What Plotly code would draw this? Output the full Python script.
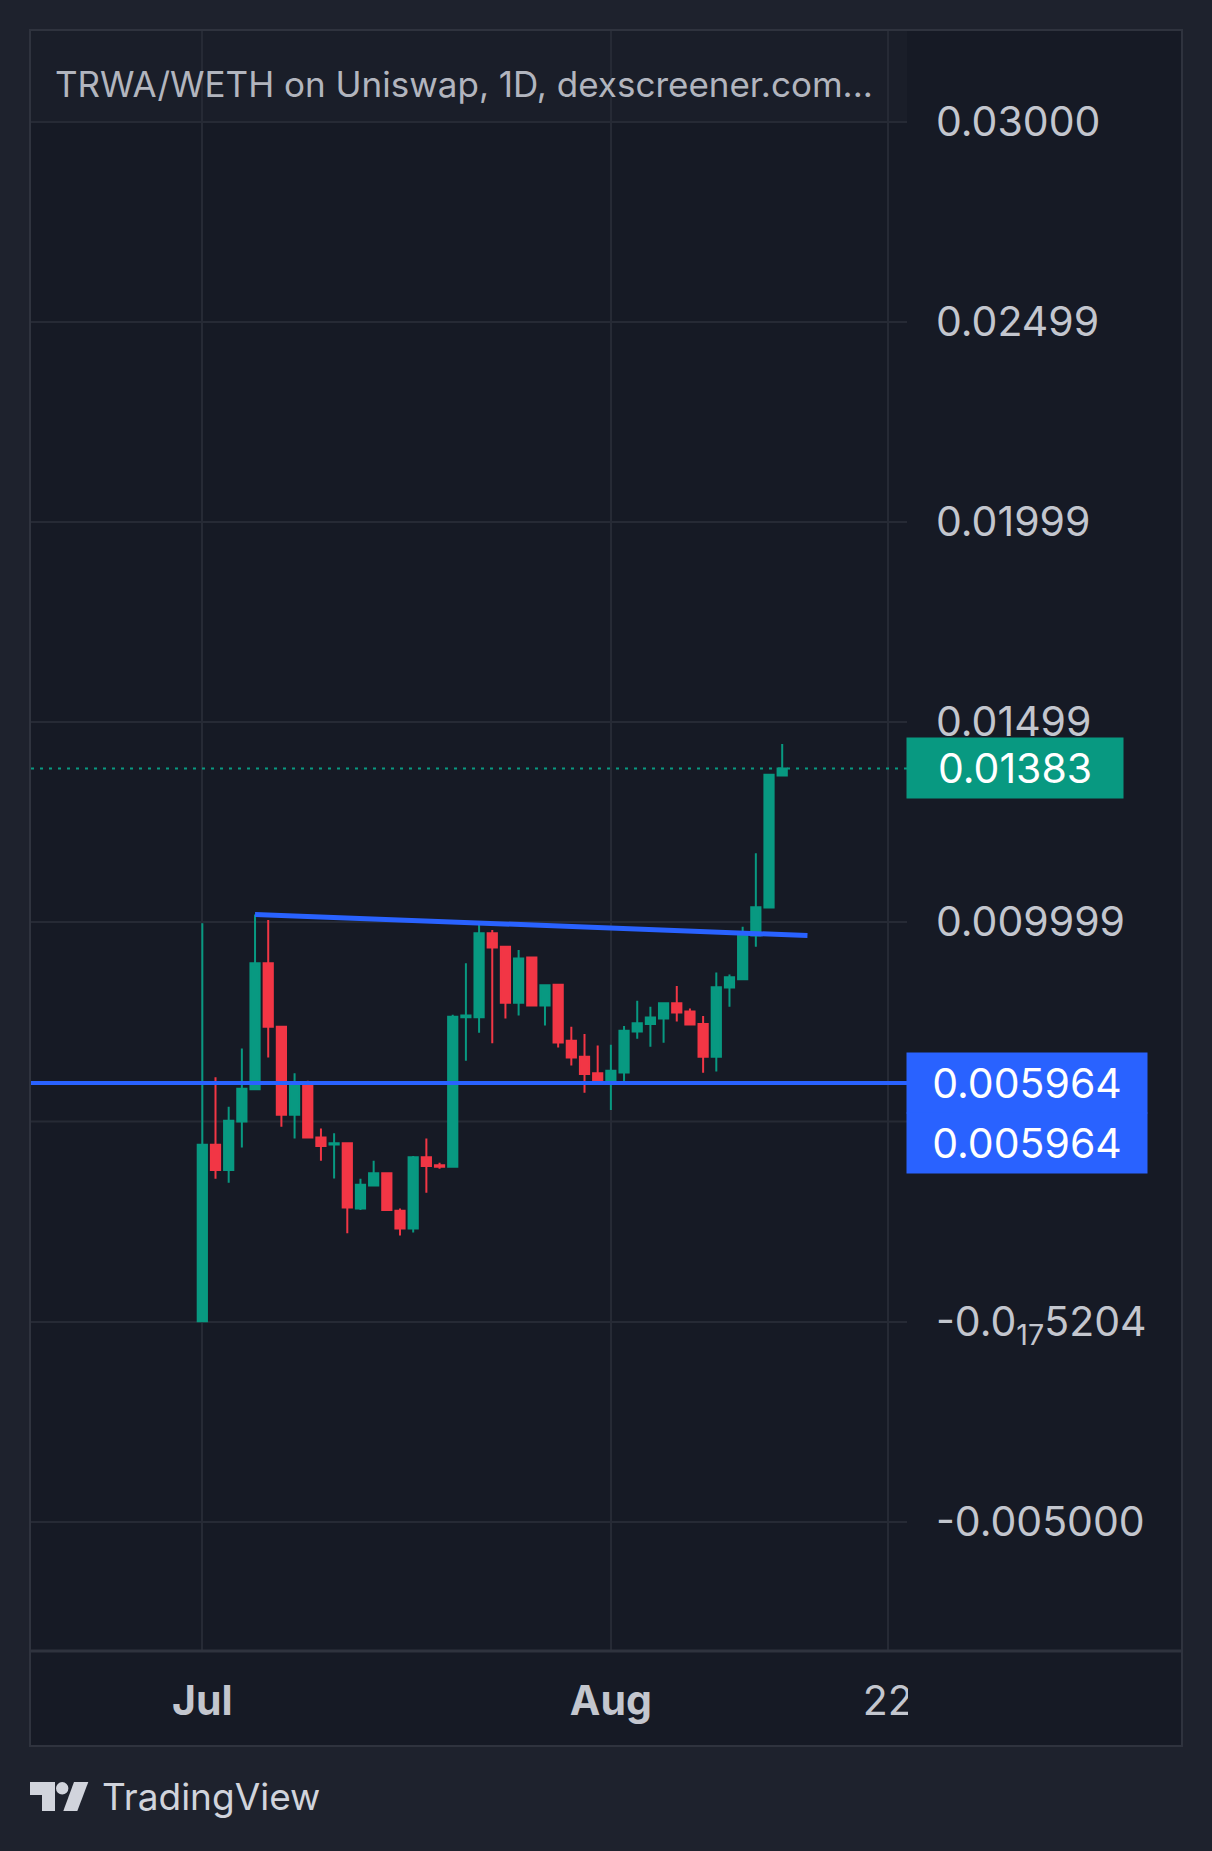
import plotly.graph_objects as go
import pandas as pd

# ---------------- data ----------------
dates = pd.date_range("2024-07-01", "2024-08-14", freq="D").strftime("%Y-%m-%d").tolist()

opens = [0.00001, 0.00442, 0.00379, 0.00500, 0.00581, 0.00896, 0.00737, 0.00517, 0.00594, 0.00460,
         0.00443, 0.00446, 0.00283, 0.00340, 0.00371, 0.00277, 0.00233, 0.00411, 0.00391, 0.00387,
         0.00761, 0.00761, 0.00971, 0.00937, 0.00797, 0.00910, 0.00790, 0.00842, 0.00702, 0.00662,
         0.00621, 0.00596, 0.00623, 0.00725, 0.00744, 0.00758, 0.00796, 0.00775, 0.00744, 0.00662,
         0.00835, 0.00856, 0.00965, 0.01035, 0.01365]
highs = [0.00996, 0.00611, 0.00537, 0.00683, 0.01018, 0.01004, 0.00737, 0.00621, 0.00602, 0.00483,
         0.00471, 0.00446, 0.00357, 0.00402, 0.00371, 0.00283, 0.00414, 0.00458, 0.00397, 0.00767,
         0.00896, 0.01000, 0.00979, 0.00937, 0.00929, 0.00910, 0.00841, 0.00842, 0.00737, 0.00719,
         0.00690, 0.00692, 0.00739, 0.00802, 0.00787, 0.00796, 0.00839, 0.00783, 0.00764, 0.00873,
         0.00868, 0.00987, 0.01171, 0.01367, 0.01444]
lows = [0.00000, 0.00357, 0.00347, 0.00435, 0.00581, 0.00660, 0.00487, 0.00458, 0.00460, 0.00402,
        0.00358, 0.00221, 0.00279, 0.00340, 0.00279, 0.00215, 0.00223, 0.00322, 0.00382, 0.00387,
        0.00652, 0.00722, 0.00696, 0.00758, 0.00765, 0.00790, 0.00740, 0.00685, 0.00640, 0.00572,
        0.00600, 0.00529, 0.00596, 0.00707, 0.00687, 0.00697, 0.00750, 0.00743, 0.00622, 0.00625,
        0.00787, 0.00856, 0.00937, 0.01035, 0.01365]
closes = [0.00442, 0.00379, 0.00502, 0.00582, 0.00896, 0.00737, 0.00517, 0.00594, 0.00460, 0.00439,
          0.00446, 0.00285, 0.00342, 0.00371, 0.00279, 0.00233, 0.00411, 0.00389, 0.00387, 0.00762,
          0.00765, 0.00971, 0.00935, 0.00797, 0.00908, 0.00790, 0.00841, 0.00698, 0.00660, 0.00619,
          0.00600, 0.00627, 0.00727, 0.00746, 0.00760, 0.00796, 0.00773, 0.00743, 0.00662, 0.00836,
          0.00861, 0.00968, 0.01036, 0.01367, 0.01383]

y_tick_vals = [0.03, 0.025, 0.02, 0.015, 0.01, 0.0, -0.005]
y_tick_text = ["0.03000", "0.02499", "0.01999", "0.01499", "0.009999",
               "-0.0<sub>17</sub>5204", "-0.005000"]
hidden_grid_level = 0.005

x_tick_vals = ["2024-07-01", "2024-08-01", "2024-08-22"]
x_tick_text = ["<b>Jul</b>", "<b>Aug</b>", "22"]

last_price = 0.01383
last_price_text = "0.01383"
support_level = 0.005964
support_text = "0.005964"
trend_x = ["2024-07-05", "2024-08-15 22:00"]
trend_y = [0.01018, 0.00965]

title_text = "TRWA/WETH on Uniswap, 1D, dexscreener.com..."
brand_text = "TradingView"

# ---------------- style ----------------
W_FIG, H_FIG = 1212, 1851
L, R, T, B = 31, 305, 31, 201
PW = W_FIG - L - R
PH = H_FIG - T - B

PAGE_BG = "#1e222d"
PANEL_BG = "#161a25"
BAND_BG = "#1a1e29"
GRID = "#262a35"
BORDER = "#2f333e"
GREEN = "#089981"
RED = "#f23645"
BLUE = "#2962ff"
TXT = "#c3c6ce"
FONT = "Inter"


def px(xp):
    return (xp - L) / PW


def py(yp):
    return (T + PH - yp) / PH


x_start = pd.Timestamp("2024-07-01") - pd.Timedelta(days=13.0)
x_end = pd.Timestamp("2024-07-01") + pd.Timedelta(days=53.47)
y_range = [-0.00821, 0.032265]

fig = go.Figure()

fig.add_trace(go.Candlestick(
    x=dates, open=opens, high=highs, low=lows, close=closes,
    increasing=dict(line=dict(color=GREEN, width=2), fillcolor=GREEN),
    decreasing=dict(line=dict(color=RED, width=2), fillcolor=RED),
    whiskerwidth=0, showlegend=False, hoverinfo="skip",
))

fig.add_trace(go.Scatter(
    x=trend_x, y=trend_y, mode="lines",
    line=dict(color=BLUE, width=5), showlegend=False, hoverinfo="skip",
))

shapes = []
# outer panel fill
shapes.append(dict(type="rect", xref="paper", yref="paper",
                   x0=px(30), x1=px(1182), y0=py(1746), y1=py(30),
                   fillcolor=PANEL_BG, line=dict(width=0), layer="below"))
# title band
shapes.append(dict(type="rect", xref="paper", yref="y",
                   x0=0, x1=1, y0=0.03, y1=y_range[1],
                   fillcolor=BAND_BG, line=dict(width=0), layer="below"))
# grid line whose label is hidden behind the price tags
shapes.append(dict(type="line", xref="paper", yref="y",
                   x0=0, x1=1, y0=hidden_grid_level, y1=hidden_grid_level,
                   line=dict(color=GRID, width=2), layer="below"))
# support line
shapes.append(dict(type="line", xref="paper", yref="y",
                   x0=0, x1=1, y0=support_level, y1=support_level,
                   line=dict(color=BLUE, width=4), layer="above"))
# last price dotted line
shapes.append(dict(type="line", xref="paper", yref="y",
                   x0=0, x1=1, y0=last_price, y1=last_price,
                   line=dict(color=GREEN, width=2, dash="3px,6px"), layer="above"))
# mask that clips the time-axis labels at the price-scale boundary
shapes.append(dict(type="rect", xref="paper", yref="paper",
                   x0=px(908), x1=px(1181), y0=py(1745), y1=py(1653),
                   fillcolor=PANEL_BG, line=dict(width=0), layer="above"))
# frame outline
shapes.append(dict(type="rect", xref="paper", yref="paper",
                   x0=px(30), x1=px(1182), y0=py(1746), y1=py(30),
                   fillcolor="rgba(0,0,0,0)", line=dict(color=BORDER, width=2), layer="above"))
# time axis separator
shapes.append(dict(type="line", xref="paper", yref="paper",
                   x0=px(30), x1=px(1182), y0=py(1651), y1=py(1651),
                   line=dict(color=BORDER, width=3), layer="above"))
# TradingView logo
logo_col = "#d1d4dc"
shapes.append(dict(type="path", xref="paper", yref="paper",
                   path=(f"M{px(30)},{py(1782)} L{px(55)},{py(1782)} L{px(55)},{py(1811)} "
                         f"L{px(42)},{py(1811)} L{px(42)},{py(1795)} L{px(30)},{py(1795)} Z"),
                   fillcolor=logo_col, line=dict(width=0)))
shapes.append(dict(type="circle", xref="paper", yref="paper",
                   x0=px(56), x1=px(68.4), y0=py(1794.5), y1=py(1782.1),
                   fillcolor=logo_col, line=dict(width=0)))
shapes.append(dict(type="path", xref="paper", yref="paper",
                   path=(f"M{px(74)},{py(1782)} L{px(88.3)},{py(1782)} L{px(77.3)},{py(1811)} "
                         f"L{px(63.3)},{py(1811)} Z"),
                   fillcolor=logo_col, line=dict(width=0)))

annotations = [
    dict(text=title_text, xref="paper", yref="paper", x=px(53), y=py(84),
         xanchor="left", yanchor="middle", showarrow=False,
         font=dict(family=FONT, size=35, color="#b2b5be")),
    dict(text=last_price_text, xref="paper", yref="y", x=px(906), y=last_price,
         xanchor="left", yanchor="middle", showarrow=False, align="center",
         width=216, height=60, borderpad=0, bgcolor=GREEN,
         font=dict(family=FONT, size=41, color="#ffffff")),
    dict(text=support_text, xref="paper", yref="y", x=px(906), y=support_level,
         xanchor="left", yanchor="middle", showarrow=False, align="center",
         width=240, height=60, borderpad=0, bgcolor=BLUE,
         font=dict(family=FONT, size=41, color="#ffffff")),
    dict(text=support_text, xref="paper", yref="y", x=px(906), y=support_level,
         xanchor="left", yanchor="middle", showarrow=False, align="center", yshift=-60,
         width=240, height=60, borderpad=0, bgcolor=BLUE,
         font=dict(family=FONT, size=41, color="#ffffff")),
    dict(text=brand_text, xref="paper", yref="paper", x=px(100), y=py(1797),
         xanchor="left", yanchor="middle", showarrow=False,
         font=dict(family=FONT, size=37, color=logo_col)),
]

fig.update_layout(
    width=W_FIG, height=H_FIG,
    margin=dict(l=L, r=R, t=T, b=B, pad=0),
    paper_bgcolor=PAGE_BG, plot_bgcolor=PANEL_BG,
    boxgap=0.3, boxgroupgap=0,
    showlegend=False,
    shapes=shapes, annotations=annotations,
    font=dict(family=FONT, color=TXT),
    xaxis=dict(type="date", range=[x_start, x_end], rangeslider=dict(visible=False),
               tickvals=x_tick_vals, ticktext=x_tick_text,
               showgrid=True, gridcolor=GRID, gridwidth=2, zeroline=False,
               showline=False, ticks="", ticklabelstandoff=23,
               tickfont=dict(family=FONT, size=41, color=TXT)),
    yaxis=dict(range=y_range, side="right", tickvals=y_tick_vals, ticktext=y_tick_text,
               showgrid=True, gridcolor=GRID, gridwidth=2, zeroline=False,
               showline=False, ticks="", ticklabelstandoff=28,
               tickfont=dict(family=FONT, size=41, color=TXT)),
)

fig.write_html("out.html", config={"displayModeBar": False},
               post_script="document.body.style.margin='0';document.body.style.background='#1e222d';")
